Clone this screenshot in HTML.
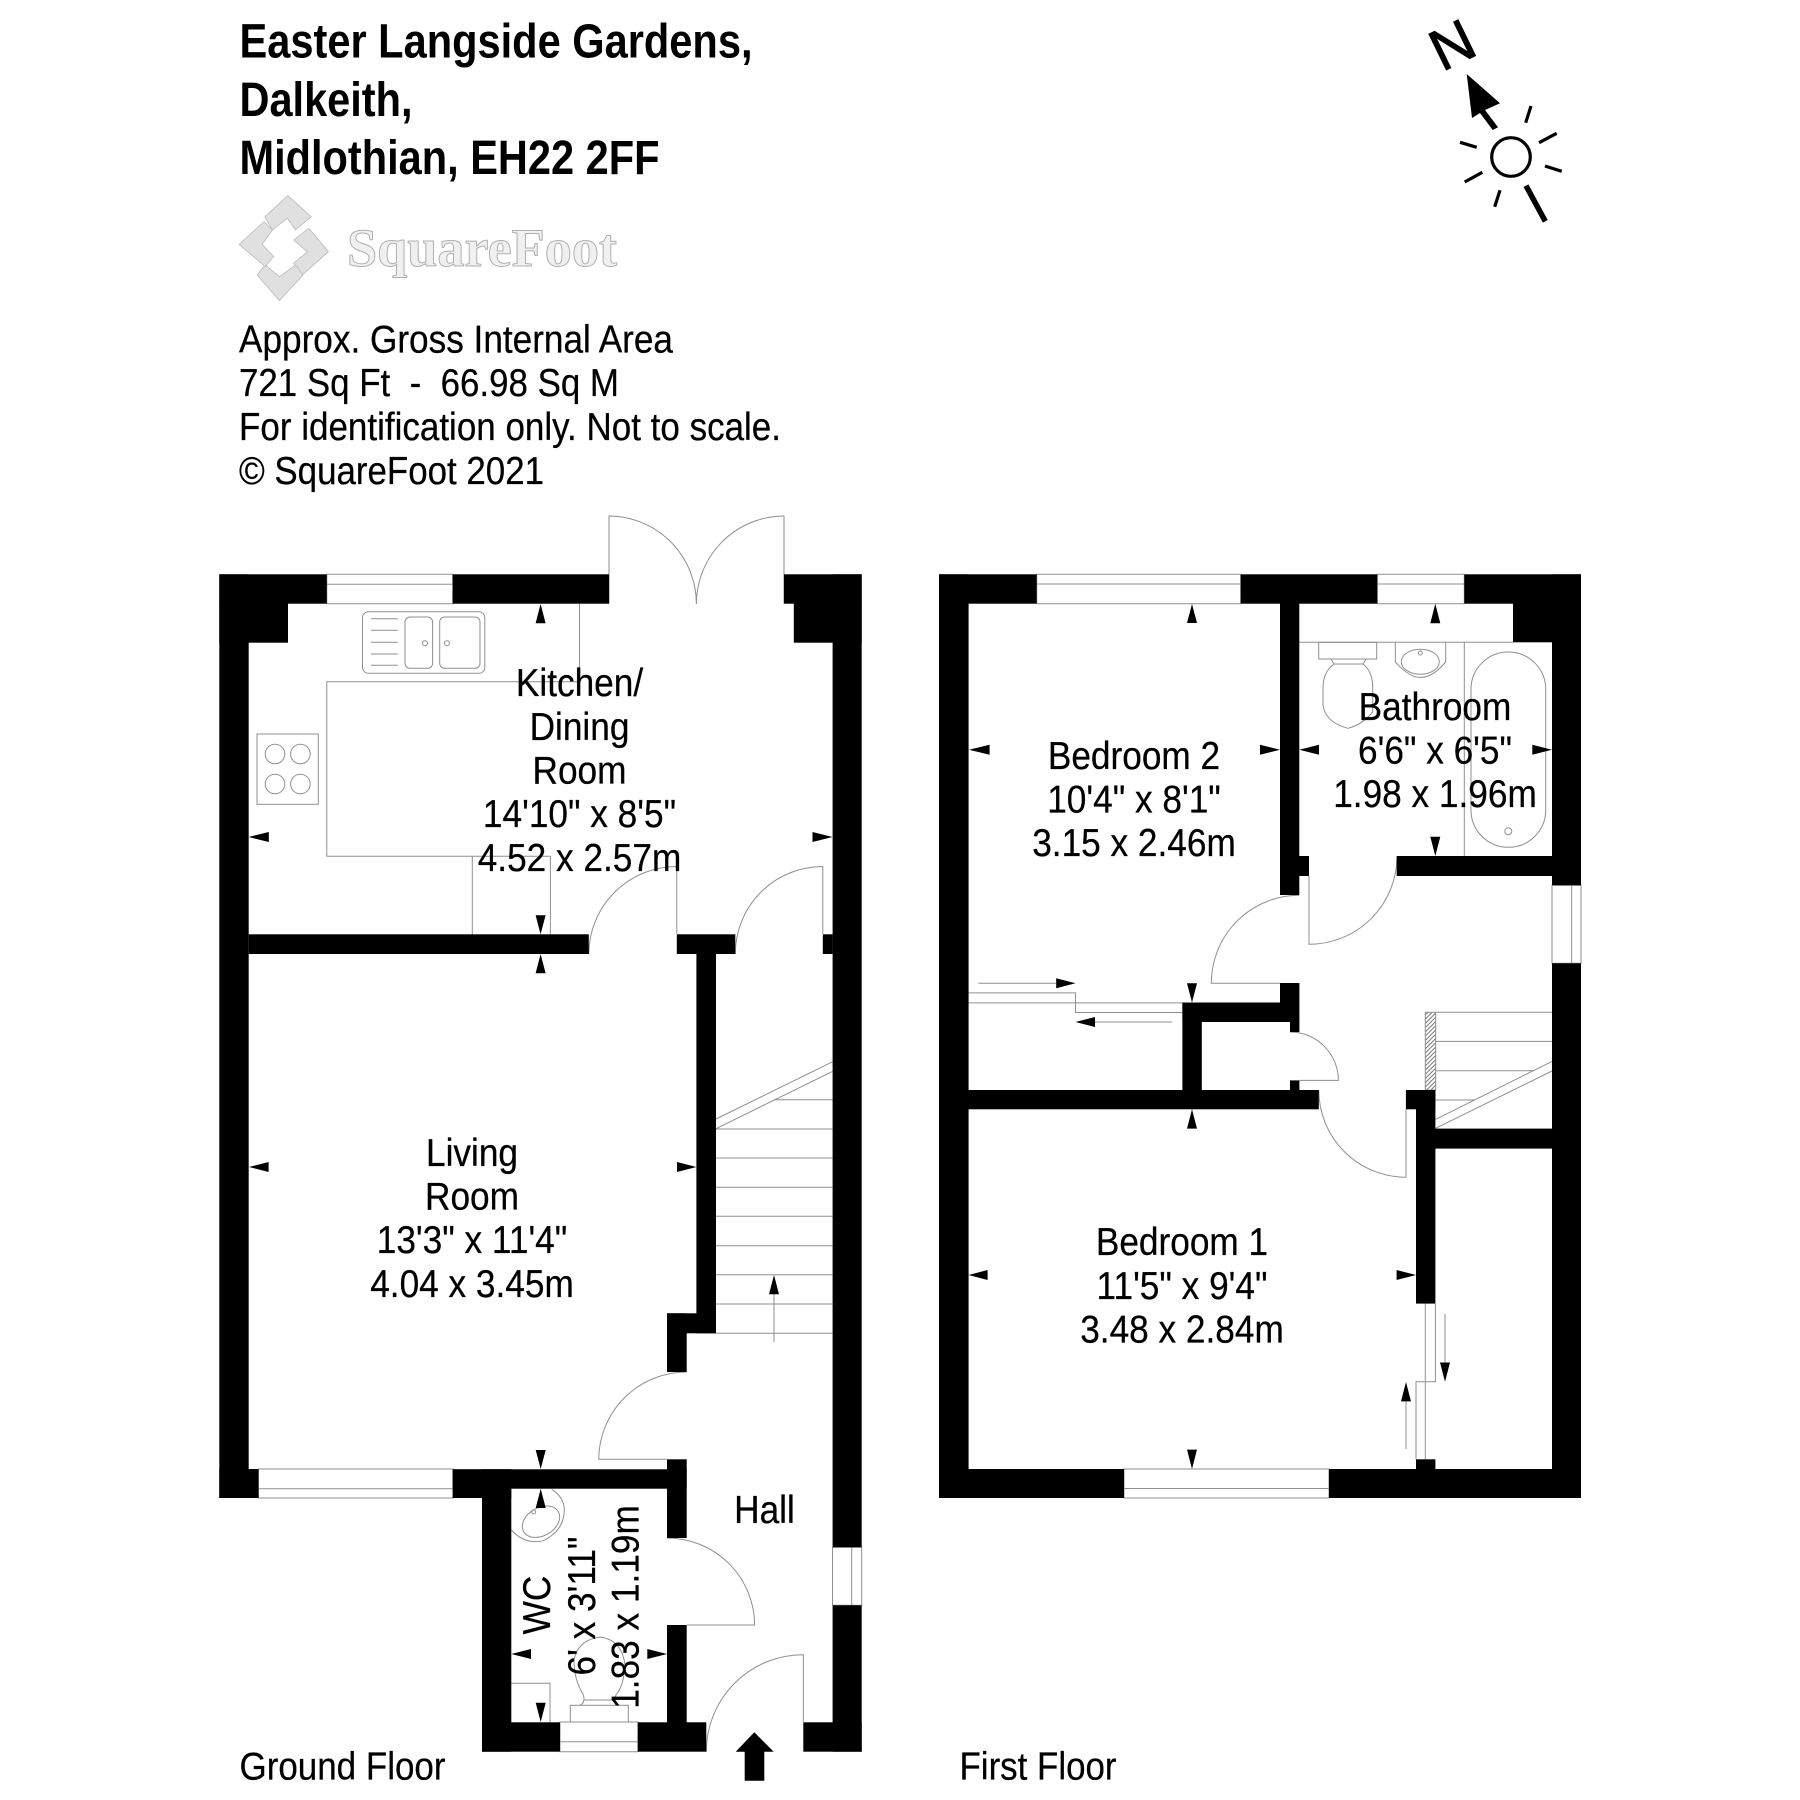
<!DOCTYPE html>
<html><head><meta charset="utf-8"><style>
html,body{margin:0;padding:0;background:#fff}
svg{display:block}
.l{fill:none;stroke:#8f8f8f;stroke-width:1}
text{font-family:"Liberation Sans",sans-serif;fill:#000;white-space:pre}
.t{font-size:38.5px;text-anchor:middle;stroke:#000;stroke-width:.25}
.i{font-size:38.5px;stroke:#000;stroke-width:.25}
.h{font-size:48px;font-weight:bold}
</style></head><body>
<svg width="1800" height="1800" viewBox="0 0 1800 1800" xmlns="http://www.w3.org/2000/svg">
<defs><pattern id="ht" width="3" height="3" patternUnits="userSpaceOnUse" patternTransform="rotate(45)"><rect width="3" height="3" fill="#fff"/><rect width="1" height="3" fill="#777"/></pattern></defs>
<rect width="1800" height="1800" fill="#fff"/>

<!-- header -->
<text class="h" x="239.5" y="57.5" textLength="513" lengthAdjust="spacingAndGlyphs">Easter Langside Gardens,</text>
<text class="h" x="239.5" y="116" textLength="173" lengthAdjust="spacingAndGlyphs">Dalkeith,</text>
<text class="h" x="239.5" y="174" textLength="420" lengthAdjust="spacingAndGlyphs">Midlothian, EH22 2FF</text>

<g transform="translate(220,0) scale(.3831,.3333)" fill="#e0e0e0" stroke="#b5b5b5" stroke-width="2">
<polygon points="177,587 238,650 197,690 176,655 137,690 117,650"/>
<polygon points="232,685 283,755 215,825 192,790 228,755 192,720"/>
<polygon points="97,825 118,795 155,830 197,795 217,825 155,902"/>
<polygon points="50,733 115,665 137,690 110,733 140,770 118,800"/>
</g>
<text x="347" y="266" font-size="54" font-weight="bold" textLength="270" lengthAdjust="spacingAndGlyphs" style="font-family:'Liberation Serif',serif;fill:#f0f0f0;stroke:#b0b0b0;stroke-width:1">SquareFoot</text>

<text class="i" x="239" y="352.5" textLength="434" lengthAdjust="spacingAndGlyphs">Approx. Gross Internal Area</text>
<text class="i" x="239" y="396" textLength="380" lengthAdjust="spacingAndGlyphs">721 Sq Ft  -  66.98 Sq M</text>
<text class="i" x="239" y="440" textLength="542" lengthAdjust="spacingAndGlyphs">For identification only. Not to scale.</text>
<text class="i" x="239" y="484" textLength="305" lengthAdjust="spacingAndGlyphs">© SquareFoot 2021</text>

<text class="i" x="239.5" y="1779.5" textLength="206" lengthAdjust="spacingAndGlyphs">Ground Floor</text>
<text class="i" x="959.5" y="1779.5" textLength="157" lengthAdjust="spacingAndGlyphs">First Floor</text>

<!-- compass -->
<text x="0" y="21" font-size="58" text-anchor="middle" transform="translate(1451.7,44) rotate(-26)" stroke="#000" stroke-width="1">N</text>
<polygon points="1466.7,74 1500,103.3 1485,110 1498,127.3 1492.7,130 1480,113 1472,118"/>
<circle cx="1511" cy="157" r="19.3" fill="none" stroke="#000" stroke-width="3.2"/>
<g stroke="#000" stroke-width="3.2" fill="none">
<path d="M1531 106L1525.7 122.7M1556.7 133.3L1539 142.7M1561.7 171.3L1545 166M1500 190.3L1494.7 206.7M1482.3 172.3L1464.7 182M1476.7 147.3L1460 142.3"/>
<path d="M1526 185.7L1545.3 221.3" stroke-width="5.5"/>
</g>

<!-- ground floor thin details -->
<g class="l">
<!-- windows -->
<path d="M326.8 574.3H452.7V603.7H326.8ZM326.8 584.3H452.7"/>
<path d="M258.5 1469H453V1498H258.5ZM258.5 1488.7H453"/>
<path d="M560 1722H638V1751.7H560ZM560 1741.7H638"/>
<path d="M832.5 1547.3H861.7V1605.3H832.5ZM851.7 1547.3V1605.3"/>
<!-- doors -->
<path d="M609 603.7V516A88 88 0 0 1 696.4 603.7"/>
<path d="M784 603.7V516A88 88 0 0 0 696.4 603.7"/>
<path d="M676.8 934V866.5A88 88 0 0 0 588.8 954"/>
<path d="M822.8 934V866.5A87.5 87.5 0 0 0 735.3 954"/>
<path d="M686.7 1372A88 88 0 0 0 598.7 1459.3H667"/>
<path d="M667 1538A87.7 87.7 0 0 1 754.7 1625H687"/>
<path d="M803.3 1722V1654.7A97 97 0 0 0 706.3 1751.7"/>
<!-- kitchen -->
<path d="M579.5 603.7V681.7H326.8V856.3H550.4V934.3M472.3 856.3V934.3"/>
<rect x="362.5" y="611.7" width="122.3" height="61.6" rx="6"/>
<rect x="405" y="617" width="27.6" height="51.3" rx="5"/>
<rect x="439.7" y="617" width="40.3" height="51.3" rx="5"/>
<path d="M371 618.7H397.8M371 630.3H397.8M371 642.3H397.8M371 654H397.8M371 665.3H397.8"/>
<circle cx="425" cy="643.3" r="2.5"/><circle cx="446.9" cy="643.3" r="2.5"/>
<rect x="257" y="734" width="61.3" height="70.3"/>
<circle cx="275" cy="754" r="9.8"/><circle cx="300.4" cy="754" r="9.8"/>
<circle cx="275" cy="784" r="9.8"/><circle cx="300.4" cy="784" r="9.8"/>
<!-- stairs -->
<path d="M716 1119L832.7 1061.7M716 1128.7L832.7 1071.3"/>
<path d="M775 1099.7H832.7M716 1129H832.7M716 1158H832.7M716 1187.3H832.7M716 1216.3H832.7M716 1245.7H832.7M716 1274.7H832.7M716 1304H832.7M716 1333.3H832.7"/>
<path d="M774 1294V1342.3"/>
<!-- WC -->
<path d="M511.3 1530Q525 1545 543.3 1540.7Q565 1530 564.3 1508.3Q563.3 1496.7 551.7 1489.3"/>
<ellipse cx="541" cy="1521.7" rx="20" ry="14" transform="rotate(-30 541 1521.7)"/>
<circle cx="533.7" cy="1512" r="2"/>
<path d="M511.3 1683.3H550V1722"/>
<rect x="570.3" y="1705.3" width="58" height="16.7"/>
<path d="M580 1705.3Q586 1702 583 1694Q574 1680 574 1660Q578 1640 600 1637Q622 1640 625 1665Q624 1685 616 1695Q612 1702 619 1705.3M584 1700H616"/>
<!-- first floor windows -->
<path d="M1036.7 574.3H1240.7V603.7H1036.7ZM1036.7 584H1240.7"/>
<path d="M1377.3 574.3H1464.3V603.7H1377.3ZM1377.3 584H1464.3"/>
<path d="M1124 1469H1329V1498H1124ZM1124 1488.5H1329"/>
<path d="M1552 885.3H1581V963.3H1552ZM1571.7 885.3V963.3"/>
<!-- first floor doors -->
<path d="M1309 876V944.3A88 88 0 0 0 1397 856"/>
<path d="M1299.3 895.3A88 88 0 0 0 1211.3 983.3H1280"/>
<path d="M1290 1032A48.4 48.4 0 0 1 1338.4 1080.4H1299.4"/>
<path d="M1318.8 1090A87.2 87.2 0 0 0 1406 1177.2V1109"/>
<!-- bathroom -->
<path d="M1299.3 642.3H1513M1464.3 642.3V856"/>
<rect x="1471" y="652" width="74.7" height="195.3" rx="37.3"/>
<circle cx="1508.3" cy="831.3" r="3.5"/>
<rect x="1318.7" y="642.3" width="58" height="16.7"/>
<path d="M1331 659L1334 664H1363L1366 659M1334 664Q1323 672 1323 688V705Q1325 722 1347.7 728.3Q1362 725 1372.7 712V688Q1373 672 1363 664"/>
<path d="M1395.3 642.3V662Q1410 678 1420.5 677.3Q1432 678 1445.7 662V642.3"/>
<ellipse cx="1420.3" cy="661.7" rx="19" ry="12.5"/>
<circle cx="1420.3" cy="653" r="2"/>
<!-- wardrobes -->
<path d="M968.6 992.9H1075.5V1012.5H1182.4M968.6 1002.9H1182.4"/>
<path d="M978.3 983.2H1056.2M1095 1022H1172"/>
<path d="M1425.3 1303.6V1459.3M1435.4 1303.6V1381.8H1416V1459.3"/>
<path d="M1445 1314V1362.5M1406 1401.4V1449"/>
<!-- first stairs -->
<rect x="1425.3" y="1012.3" width="10.4" height="77.7" fill="url(#ht)"/>
<path d="M1435.7 1012.3H1552M1435.7 1041.4H1552M1435.7 1070.7H1534M1435.7 1100H1475"/>
<path d="M1435.8 1119.3L1552 1061.4M1435.8 1128.2L1552 1071"/>
</g>

<!-- walls -->
<g fill="#000">
<!-- ground -->
<rect x="219.3" y="574.3" width="107.5" height="29.4"/>
<rect x="452.7" y="574.3" width="156.3" height="29.4"/>
<rect x="784" y="574.3" width="77.7" height="29.4"/>
<rect x="219.3" y="574.3" width="29.4" height="923.7"/>
<rect x="219.3" y="603" width="68.7" height="39.7"/>
<rect x="793.8" y="603" width="67.9" height="39.7"/>
<rect x="832.6" y="574.3" width="29.1" height="973"/>
<rect x="832.6" y="1605.3" width="29.1" height="146.4"/>
<rect x="803.3" y="1722.3" width="58.4" height="29.4"/>
<rect x="248.7" y="934.3" width="340.1" height="19.7"/>
<rect x="676.8" y="934.3" width="58.5" height="19.7"/>
<rect x="822.8" y="934.3" width="9.8" height="19.7"/>
<rect x="696.4" y="954" width="19.6" height="379.3"/>
<rect x="667" y="1313.3" width="49" height="20"/>
<rect x="667" y="1313.3" width="19.7" height="58.7"/>
<rect x="219.3" y="1469" width="39.2" height="29"/>
<rect x="452.7" y="1469.3" width="234" height="19.4"/>
<rect x="452.7" y="1469.3" width="58.6" height="28.7"/>
<rect x="667" y="1459.3" width="19.7" height="78.7"/>
<rect x="482" y="1469.3" width="29.3" height="282.4"/>
<rect x="482" y="1722.3" width="78" height="29.4"/>
<rect x="637.7" y="1722.3" width="68.6" height="29.4"/>
<rect x="667" y="1625" width="19.7" height="126"/>
<polygon points="754.3,1732.3 773.7,1751.7 764.3,1751.7 764.3,1780.7 744.7,1780.7 744.7,1751.7 735.7,1751.7"/>
<!-- first -->
<rect x="939" y="574.3" width="97.7" height="29.4"/>
<rect x="1240.7" y="574.3" width="136.6" height="29.4"/>
<rect x="1464.3" y="574.3" width="116.7" height="29.4"/>
<rect x="939" y="574.3" width="29.6" height="923.7"/>
<rect x="1513" y="603" width="68" height="39.3"/>
<rect x="1552" y="574.3" width="29" height="311"/>
<rect x="1552" y="963.3" width="29" height="534.7"/>
<rect x="939" y="1469" width="185" height="29"/>
<rect x="1329" y="1469" width="252" height="29"/>
<rect x="1280" y="603" width="19.3" height="292"/>
<rect x="1299" y="856" width="10" height="20"/>
<rect x="1396.7" y="856" width="155.3" height="20"/>
<rect x="1280" y="983" width="19.4" height="19.5"/>
<rect x="1182.4" y="1002.5" width="117" height="19.5"/>
<rect x="1290" y="1021" width="9.4" height="11"/>
<rect x="1182.4" y="1002.5" width="19.4" height="90"/>
<rect x="1290" y="1080.4" width="9.4" height="10"/>
<rect x="968" y="1090" width="350.8" height="19.3"/>
<rect x="1405.9" y="1090" width="29.5" height="19.3"/>
<rect x="1416" y="1090" width="19.4" height="213.6"/>
<rect x="1435" y="1128.6" width="117" height="20"/>
<rect x="1416" y="1459.3" width="19.4" height="10"/>

<!-- dimension arrows: ground -->
<polygon points="540.6,604 545.6,623.3 535.6,623.3"/>
<polygon points="540.6,934.3 545.6,915.3 535.6,915.3"/>
<polygon points="540.6,954 545.6,973.3 535.6,973.3"/>
<polygon points="248.7,837 268.8,832 268.8,842"/>
<polygon points="832.6,837 812.5,832 812.5,842"/>
<polygon points="249,1167 268.6,1162 268.6,1172"/>
<polygon points="696.4,1167 677,1162 677,1172"/>
<polygon points="540.7,1469 545.7,1450 535.7,1450"/>
<polygon points="540.7,1488.7 545.7,1508 535.7,1508"/>
<polygon points="540.7,1722 545.7,1702.7 535.7,1702.7"/>
<polygon points="511.3,1654 531,1649 531,1659"/>
<polygon points="667,1654 647.3,1649 647.3,1659"/>
<polygon points="774,1275 779,1294.3 769,1294.3"/>
<!-- dimension arrows: first -->
<polygon points="1192,604 1197,623 1187,623"/>
<polygon points="969,749.7 989.6,744.7 989.6,754.7"/>
<polygon points="1280,749.7 1260,744.7 1260,754.7"/>
<polygon points="1192,1002.5 1197,983.2 1187,983.2"/>
<polygon points="1192,1109.3 1197,1128.6 1187,1128.6"/>
<polygon points="1192,1469 1197,1449.6 1187,1449.6"/>
<polygon points="968.6,1275 987.6,1270 987.6,1280"/>
<polygon points="1416,1275 1396.6,1270 1396.6,1280"/>
<polygon points="1299.3,749.7 1319,744.7 1319,754.7"/>
<polygon points="1552,749.7 1532.3,744.7 1532.3,754.7"/>
<polygon points="1435.3,603.7 1440.3,623.3 1430.3,623.3"/>
<polygon points="1435.3,856 1440.3,836.7 1430.3,836.7"/>
<polygon points="1075.5,983.2 1056.2,978.2 1056.2,988.2"/>
<polygon points="1075.5,1022 1095,1017 1095,1027"/>
<polygon points="1445,1381.8 1450,1362.5 1440,1362.5"/>
<polygon points="1406,1382 1411,1401.4 1401,1401.4"/>
</g>

<!-- room labels -->
<g>
<text class="t" transform="translate(579.5,696) scale(.915,1)">Kitchen/</text>
<text class="t" transform="translate(579.5,740) scale(.915,1)">Dining</text>
<text class="t" transform="translate(579.5,783.5) scale(.915,1)">Room</text>
<text class="t" transform="translate(579.5,827) scale(.915,1)">14'10" x 8'5"</text>
<text class="t" transform="translate(579.5,871) scale(.915,1)">4.52 x 2.57m</text>

<text class="t" transform="translate(472,1166) scale(.915,1)">Living</text>
<text class="t" transform="translate(472,1209.5) scale(.915,1)">Room</text>
<text class="t" transform="translate(472,1253) scale(.915,1)">13'3" x 11'4"</text>
<text class="t" transform="translate(472,1297) scale(.915,1)">4.04 x 3.45m</text>

<text class="t" transform="translate(764.5,1523) scale(.915,1)">Hall</text>

<text class="t" transform="translate(550,1605) rotate(-90) scale(.915,1)">WC</text>
<text class="t" transform="translate(595,1606) rotate(-90) scale(.915,1)">6' x 3'11"</text>
<text class="t" transform="translate(638.5,1607) rotate(-90) scale(.915,1)">1.83 x 1.19m</text>

<text class="t" transform="translate(1134,769) scale(.915,1)">Bedroom 2</text>
<text class="t" transform="translate(1134,812.5) scale(.915,1)">10'4" x 8'1"</text>
<text class="t" transform="translate(1134,856) scale(.915,1)">3.15 x 2.46m</text>

<text class="t" transform="translate(1435,720) scale(.915,1)">Bathroom</text>
<text class="t" transform="translate(1435,763.5) scale(.915,1)">6'6" x 6'5"</text>
<text class="t" transform="translate(1435,807) scale(.915,1)">1.98 x 1.96m</text>

<text class="t" transform="translate(1182,1255) scale(.915,1)">Bedroom 1</text>
<text class="t" transform="translate(1182,1299) scale(.915,1)">11'5" x 9'4"</text>
<text class="t" transform="translate(1182,1342.5) scale(.915,1)">3.48 x 2.84m</text>
</g>
</svg>
</body></html>
